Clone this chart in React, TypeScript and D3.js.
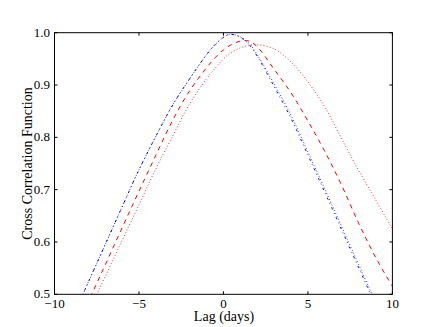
import React from "react";
import * as d3 from "d3";

const lags = [-9, -8, -7, -6, -5, -4, -3, -2, -1, -0.5, 0, 0.4, 1, 1.5, 2, 3, 4, 5, 6, 7, 8, 9, 10];
const blueDashDot = [0.451, 0.523, 0.595, 0.667, 0.738, 0.802, 0.862, 0.912, 0.958, 0.977, 0.991, 0.997, 0.991, 0.978, 0.955, 0.897, 0.836, 0.766, 0.695, 0.623, 0.551, 0.479, 0.407];
const blueDotted = [0.451, 0.523, 0.595, 0.667, 0.738, 0.802, 0.862, 0.912, 0.958, 0.977, 0.991, 0.997, 0.992, 0.98, 0.958, 0.902, 0.842, 0.772, 0.701, 0.629, 0.557, 0.485, 0.413];
const redDashed = [0.416, 0.486, 0.556, 0.627, 0.697, 0.766, 0.833, 0.889, 0.933, 0.952, 0.967, 0.976, 0.984, 0.984, 0.973, 0.93, 0.885, 0.831, 0.773, 0.708, 0.636, 0.571, 0.515];
const redDotted = [0.397, 0.466, 0.534, 0.603, 0.671, 0.74, 0.803, 0.864, 0.912, 0.932, 0.95, 0.961, 0.971, 0.976, 0.977, 0.969, 0.944, 0.906, 0.858, 0.797, 0.737, 0.681, 0.625];

const xTicks = [-10, -5, 0, 5, 10];
const yTicks = [0.5, 0.6, 0.7, 0.8, 0.9, 1.0];

const W = 436, H = 327;
const L = 54.5, R = 392.4, T = 32.7, B = 294.3;

export default function App() {
  const x = d3.scaleLinear().domain([-10, 10]).range([L, R]);
  const y = d3.scaleLinear().domain([0.5, 1.0]).range([B, T]);
  const mk = (vals: number[]) =>
    d3.line<number>().x((_, i) => x(lags[i])).y((v) => y(v)).curve(d3.curveCatmullRom.alpha(0.5))(vals) || "";
  const series = [
    { vals: redDotted, color: "#ff0000", dash: "0.8,2.3" },
    { vals: redDashed, color: "#ff0000", dash: "4.5,4.5" },
    { vals: blueDotted, color: "#0000ff", dash: "0.8,2.3" },
    { vals: blueDashDot, color: "#0000ff", dash: "2.3,3.8,0.8,3.8" },
  ];
  const font = "'Liberation Serif', 'DejaVu Serif', serif";
  return (
    <svg width={W} height={H} style={{ position: "absolute", left: 0, top: 0, background: "#fff" }}>
      <defs>
        <clipPath id="pa">
          <rect x={L} y={T} width={R - L} height={B - T} />
        </clipPath>
      </defs>
      <rect x={0} y={0} width={W} height={H} fill="#fff" />
      <g clipPath="url(#pa)">
        {series.map((s, i) => (
          <path key={i} d={mk(s.vals)} fill="none" stroke={s.color} strokeWidth={1} strokeDasharray={s.dash} />
        ))}
      </g>
      <rect x={L} y={T} width={R - L} height={B - T} fill="none" stroke="#000" strokeWidth={1} />
      {xTicks.map((t) => (
        <g key={"x" + t}>
          <line x1={x(t)} x2={x(t)} y1={B} y2={B - 3} stroke="#000" />
          <line x1={x(t)} x2={x(t)} y1={T} y2={T + 3} stroke="#000" />
          <text x={x(t)} y={308} textAnchor="middle" fontFamily={font} fontSize={13}>
            {t < 0 ? "\u2212" + Math.abs(t) : String(t)}
          </text>
        </g>
      ))}
      {yTicks.map((t) => (
        <g key={"y" + t}>
          <line x1={L} x2={L + 3} y1={y(t)} y2={y(t)} stroke="#000" />
          <line x1={R} x2={R - 3} y1={y(t)} y2={y(t)} stroke="#000" />
          <text x={50} y={y(t) + 4} textAnchor="end" fontFamily={font} fontSize={13}>
            {t.toFixed(1)}
          </text>
        </g>
      ))}
      <text x={224} y={321} textAnchor="middle" fontFamily={font} fontSize={14}>
        Lag (days)
      </text>
      <text
        transform={`translate(32,${(T + B) / 2}) rotate(-90)`}
        textAnchor="middle"
        fontFamily={font}
        fontSize={14}
      >
        Cross Correlation Function
      </text>
    </svg>
  );
}
